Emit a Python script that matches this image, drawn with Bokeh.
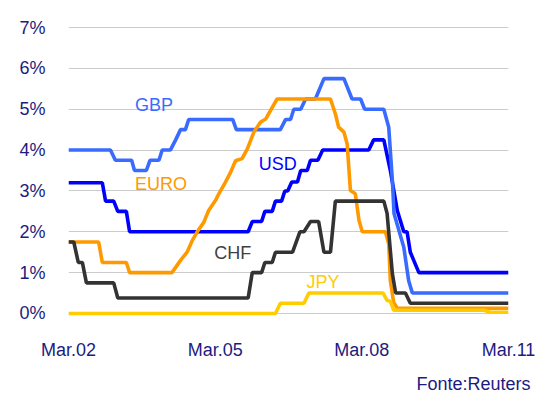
from bokeh.plotting import figure
from bokeh.models import Range1d, FixedTicker, Label, Title
from bokeh.embed import file_html
from bokeh.resources import INLINE

# months counted from Mar.2002 (0) to Mar.2011 (108)
x_tick_months = [0, 36, 72, 108]
x_tick_labels = ["Mar.02", "Mar.05", "Mar.08", "Mar.11"]
y_ticks = [0, 1, 2, 3, 4, 5, 6, 7]
y_tick_labels = ["0%", "1%", "2%", "3%", "4%", "5%", "6%", "7%"]

gbp_m = [0, 10.3, 11.5, 15.5, 16.2, 19.1, 20, 22.2, 23, 25, 26.3, 27.5, 28.7, 29.5,
         40.3, 41.2, 52, 53.3, 54.5, 55.3, 57, 58.2, 60.6, 62.7, 67.6, 69.6, 71.7,
         72.7, 77.4, 78.6, 79.5, 79.9, 82.3, 83.5, 84.4, 108]
gbp_v = [4.0, 4.0, 3.75, 3.75, 3.5, 3.5, 3.75, 3.75, 4.0, 4.0, 4.25, 4.5, 4.5, 4.75,
         4.75, 4.5, 4.5, 4.75, 4.75, 5.0, 5.0, 5.25, 5.25, 5.75, 5.75, 5.25, 5.25,
         5.0, 5.0, 4.56, 3.25, 2.45, 1.62, 0.8, 0.5, 0.5]

usd_m = [0, 8.3, 9.1, 11.1, 12.1, 14.2, 15, 44.1, 45.1, 47.4, 48.2, 50, 50.8, 52.3,
         53.1, 53.8, 54.8, 56.2, 57, 58.6, 59.4, 61.2, 62.4, 73.7, 74.9, 77.4, 79,
         80.7, 82.3, 83.1, 83.9, 86, 108]
usd_v = [3.2, 3.2, 2.75, 2.75, 2.5, 2.5, 2.0, 2.0, 2.25, 2.25, 2.5, 2.5, 2.75, 2.75,
         3.0, 3.0, 3.22, 3.22, 3.5, 3.5, 3.75, 3.75, 4.0, 4.0, 4.25, 4.25, 3.5,
         2.52, 2.0, 2.0, 1.5, 1.0, 1.0]

euro_m = [0, 7.4, 8.3, 14.2, 15, 25.4, 27.5, 29.1, 30.4, 31.6, 33.2, 34.4, 36.1,
          36.9, 38.5, 39.8, 41, 42.6, 43.9, 45.5, 47.1, 48.4, 49.6, 51.2, 64.3, 65.5,
          66.3, 67.6, 68.4, 69.2, 70.4, 71.3, 72.1, 77.8, 78.6, 79, 79.8, 80.7, 108]
euro_v = [1.75, 1.75, 1.25, 1.25, 1.0, 1.0, 1.3, 1.5, 1.79, 2.0, 2.23, 2.52, 2.77,
          2.93, 3.21, 3.46, 3.74, 3.79, 4.03, 4.44, 4.68, 4.76, 4.97, 5.25, 5.25, 4.89,
          4.56, 4.44, 4.15, 3.01, 2.93, 2.28, 2.0, 2.0, 1.7, 0.8, 0.28, 0.13, 0.13]

chf_m = [0, 1.3, 2.4, 3.4, 4.4, 11.1, 12.1, 44.1, 45.1, 47.4, 48.2, 50, 50.8, 55,
         56.8, 57.8, 59.4, 61.4, 62.7, 64.3, 65.5, 77.4, 78.2, 79.5, 80.3, 82.7, 83.9, 108]
chf_v = [1.75, 1.75, 1.25, 1.25, 0.75, 0.75, 0.38, 0.38, 1.0, 1.0, 1.25, 1.25, 1.5, 1.5,
         2.0, 2.0, 2.25, 2.25, 1.5, 1.5, 2.75, 2.75, 2.45, 0.97, 0.5, 0.5, 0.25, 0.25]

jpy_m = [0, 50.8, 52, 57.8, 59, 77.2, 78.2, 79, 79.8, 102, 103.5, 108]
jpy_v = [0, 0, 0.25, 0.25, 0.5, 0.5, 0.32, 0.3, 0.08, 0.08, 0.03, 0.03]

C_GBP = "#3a6bff"
C_USD = "#0000ff"
C_EURO = "#ff9900"
C_CHF = "#333333"
C_JPY = "#ffcc00"
NAVY = "#1c1c80"
FONT = "Liberation Sans"
FS = "18px"

p = figure(width=547, height=403, x_range=Range1d(0, 108),
           y_range=Range1d(-0.147, 7.245), output_backend="svg",
           toolbar_location=None, min_border_left=68, min_border_right=39,
           min_border_top=17, min_border_bottom=84)
p.outline_line_color = None
p.background_fill_color = "white"
p.border_fill_color = "white"

p.xgrid.grid_line_color = None
p.ygrid.grid_line_color = "#cccccc"
p.ygrid.grid_line_width = 1

p.xaxis.ticker = FixedTicker(ticks=x_tick_months)
p.xaxis.major_label_overrides = {m: l for m, l in zip(x_tick_months, x_tick_labels)}
p.yaxis.ticker = FixedTicker(ticks=y_ticks)
p.yaxis.major_label_overrides = {t: l for t, l in zip(y_ticks, y_tick_labels)}
for ax in (p.xaxis, p.yaxis):
    ax.axis_line_color = None
    ax.major_tick_line_color = None
    ax.minor_tick_line_color = None
    ax.major_label_text_font = FONT
    ax.major_label_text_font_size = FS
    ax.major_label_text_color = NAVY
p.xaxis.major_label_standoff = 14
p.yaxis.major_label_standoff = 17

lw = 3.6
p.line(usd_m, usd_v, line_color=C_USD, line_width=lw)
p.line(gbp_m, gbp_v, line_color=C_GBP, line_width=lw)
p.line(euro_m, euro_v, line_color=C_EURO, line_width=lw)
p.line(chf_m, chf_v, line_color=C_CHF, line_width=lw)
p.line(jpy_m, jpy_v, line_color=C_JPY, line_width=lw)

labels = [("GBP", 16.3, 5.11, C_GBP), ("EURO", 16.3, 3.16, C_EURO),
          ("USD", 46.7, 3.65, C_USD), ("CHF", 35.8, 1.48, "#404040"),
          ("JPY", 58.4, 0.78, C_JPY)]
for t, x, y, c in labels:
    p.add_layout(Label(x=x, y=y, text=t, text_color=c, text_font=FONT,
                       text_font_size=FS, text_baseline="alphabetic",
                       text_align="left"))

source_title = Title(text="Fonte:Reuters", align="right", offset=-22,
                     standoff=19, text_color=NAVY, text_font=FONT,
                     text_font_size=FS, text_font_style="normal")
p.add_layout(source_title, "below")

open("out.html", "w").write(file_html(p, INLINE))
